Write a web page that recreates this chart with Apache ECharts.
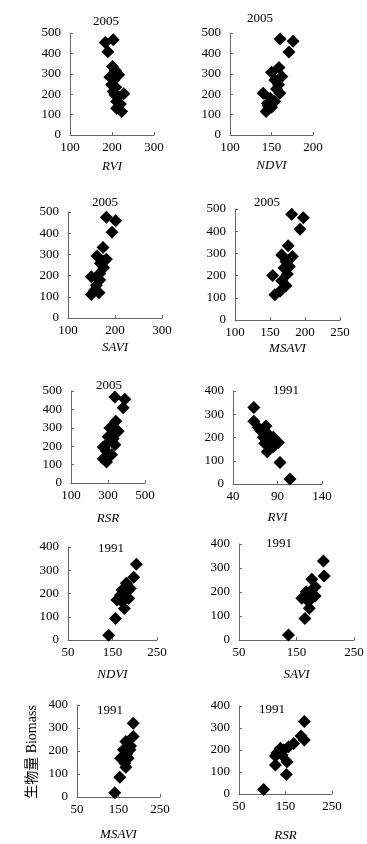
<!DOCTYPE html>
<html><head><meta charset="utf-8">
<script src="https://cdn.jsdelivr.net/npm/echarts@6/dist/echarts.min.js"></script>
<style>html,body{margin:0;padding:0;background:#fff}#c{width:367px;height:844px}</style>
</head><body><div id="c"></div>
<script>
// ---- data: [index value, biomass] ----
const rvi2005 = [[203,467],[184,454],[190,408],[201,336],[208,316],[216,295],[195,284],[204,270],[199,246],[209,234],[203,213],[228,202],[215,189],[207,197],[211,164],[220,152],[211,131],[223,115]];
const ndvi2005 = [[160.5,470],[176,459],[171,407],[159,331],[150,307],[162.5,287],[154,270],[158.5,246],[156,225],[160,205],[140,205],[148.5,180],[154,164],[145,156],[146,143],[150,136],[143.5,115]];
const savi2005 = [[181.6,475],[201.4,459],[193.6,405],[174.5,332],[161.7,293],[181.6,277],[174.5,269],[168.8,258],[175.9,237],[167.4,210],[149.6,195],[167.4,179],[160.3,155],[156.7,131],[166,119],[149.6,111]];
const msavi2005 = [[181,476],[197.6,461],[192.9,409],[176,335],[166.7,293],[182,286],[172.9,263],[177.6,241],[170,234],[174.8,207],[153.8,201],[166.7,177],[172.9,154],[164.3,129],[157,114]];
const rsr2005 = [[337,467],[391,455],[382,409],[342,335],[310,299],[355,281],[319,263],[301,252],[328,241],[301,217],[337,208],[274,196],[292,172],[319,154],[274,132],[292,114]];
const rvi1991 = [[63.4,329],[63.4,270],[68.3,243],[77,249],[71,230],[78.5,218],[74,201],[85.3,201],[81.5,182],[91,178],[75.5,175],[85.3,160],[81,160],[78.5,139],[92.8,93],[104,21]];
const ndvi1991 = [[203.6,326],[197.6,270],[181,244],[190,222],[171.5,215],[182.7,208],[179,193],[167.7,193],[186.5,179],[160,172],[171.5,165],[176.5,136],[156.6,92],[141.4,20]];
const savi1991 = [[196.8,329],[198,267],[176.6,253],[182.4,222],[176.6,208],[166.8,201],[173.7,188],[182.4,183],[159.2,174],[170.8,160],[172.3,132],[164.7,90],[136,21]];
const msavi1991 = [[185.5,321],[185.5,263],[167.7,241],[179,222],[162,205],[177.4,205],[170,188],[155,169],[173.4,169],[165.3,147],[167.7,129],[153.2,86],[141,19]];
const rsr1991 = [[190.5,329],[183.3,264],[190.5,245],[167.6,230],[156.9,215],[139,208],[146.1,200],[131.8,188],[142.5,177],[128.3,173],[153.3,147],[128.3,132],[151.8,89],[103,21]];

const panelTitles = ['2005','2005','2005','2005','2005','1991','1991','1991','1991','1991'];
const axisNames = ['RVI','NDVI','SAVI','MSAVI','RSR','RVI','NDVI','SAVI','MSAVI','RSR'];
const xTicks = [[100,200,300],[100,150,200],[100,200,300],[100,150,200,250],[100,300,500],[40,90,140],[50,150,250],[50,150,250],[50,150,250],[50,150,250]];
const yTicks5 = [0,100,200,300,400,500];
const yTicks4 = [0,100,200,300,400];
const yAxisTitle = '生物量 Biomass';
const datasets = [rvi2005, ndvi2005, savi2005, msavi2005, rsr2005, rvi1991, ndvi1991, savi1991, msavi1991, rsr1991];

// ---- layout ----
const grids = [
  {left:70,top:33,width:84,height:102},
  {left:230,top:33,width:83,height:102},
  {left:68,top:212,width:94,height:106},
  {left:235,top:209,width:105,height:111},
  {left:71,top:391,width:74,height:92},
  {left:233,top:391,width:89,height:93},
  {left:68,top:547,width:89,height:93},
  {left:239,top:544,width:115,height:96},
  {left:77,top:705,width:83,height:92},
  {left:239,top:706,width:93,height:88}
];
const titlePos = [[101,18],[255,15],[100,199],[262,199],[104,382],[281,387],[106,545],[274,540],[105,707],[267,706]];
const nameGaps = [25,24,23,22,29,27,28,28,31,35];

const serif = 'Liberation Serif';
const axisLineStyle = {color:'#666', width:1};
const option = {
  animation:false,
  backgroundColor:'#fff',
  grid: grids.map(g => Object.assign({containLabel:false}, g)),
  title: panelTitles.map((t,i) => ({text:t, left:titlePos[i][0], top:titlePos[i][1]-8, textAlign:'center',
    textStyle:{fontFamily:serif,fontSize:13,fontWeight:'normal',color:'#000'}})),
  xAxis: xTicks.map((tk,i) => ({
    type:'value', gridIndex:i, min:tk[0], max:tk[tk.length-1],
    name:axisNames[i], nameLocation:'middle', nameGap:nameGaps[i],
    nameTextStyle:{fontFamily:serif,fontStyle:'italic',fontSize:13,color:'#000'},
    axisLine:{show:true,onZero:false,lineStyle:axisLineStyle},
    axisTick:{show:true,inside:true,length:3,customValues:tk,lineStyle:axisLineStyle},
    axisLabel:{customValues:tk,fontFamily:serif,fontSize:13,color:'#000',margin:6},
    splitLine:{show:false}
  })),
  yAxis: xTicks.map((tk,i) => {
    const yt = i < 5 ? yTicks5 : yTicks4;
    return {
      type:'value', gridIndex:i, min:0, max:yt[yt.length-1],
      axisLine:{show:true,onZero:false,lineStyle:axisLineStyle},
      axisTick:{show:true,inside:true,length:3,customValues:yt,lineStyle:axisLineStyle},
      axisLabel:{customValues:yt,fontFamily:serif,fontSize:13,color:'#000',margin:9},
      splitLine:{show:false}
    };
  }),
  series: datasets.map((d,i) => ({
    type:'scatter', xAxisIndex:i, yAxisIndex:i, data:d,
    symbol:'diamond', symbolSize:13, itemStyle:{color:'#000', opacity:1}
  })),
  graphic:[{type:'text', x:32, y:752, rotation:Math.PI/2,
    style:{text:yAxisTitle, fontFamily:'Liberation Serif, Noto Sans CJK SC', fontSize:14, fill:'#000', align:'center', verticalAlign:'middle'}}]
};
const chart = echarts.init(document.getElementById('c'), null, {renderer:'canvas'});
chart.setOption(option);
</script></body></html>
